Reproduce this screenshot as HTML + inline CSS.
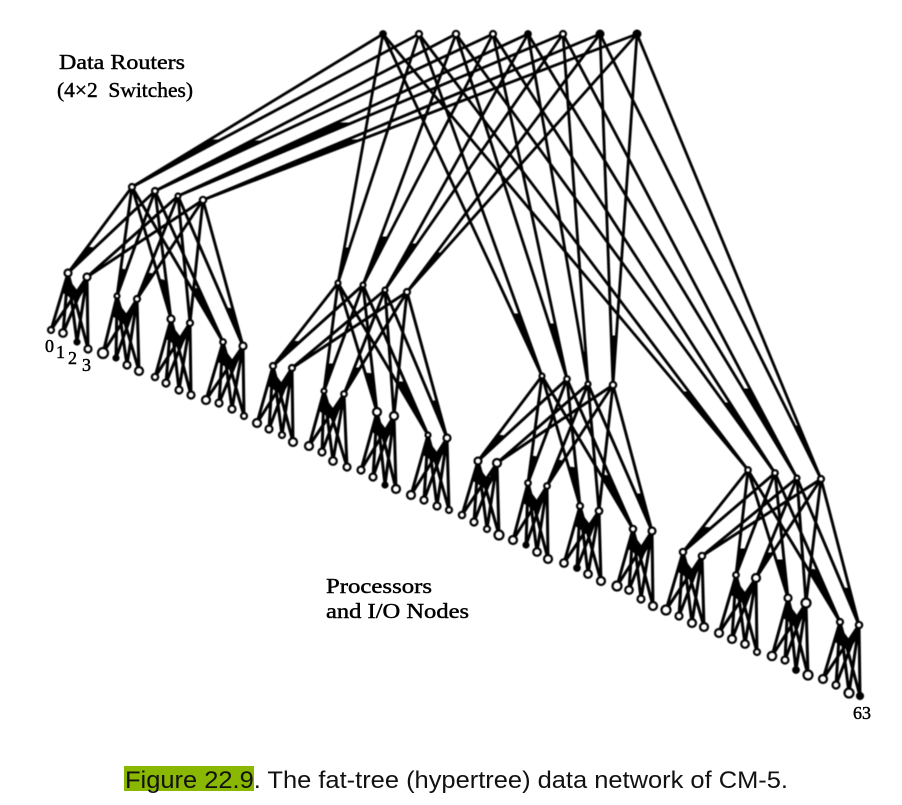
<!DOCTYPE html>
<html lang="en">
<head>
<meta charset="utf-8">
<title>Figure 22.9 Fat-tree data network of CM-5</title>
<style>
html,body{margin:0;padding:0;background:#fff;width:902px;height:805px;overflow:hidden}
svg{display:block}
.d{filter:blur(.45px)}
.l{fill:none;stroke:#000;stroke-linejoin:round;stroke-linecap:round}
.w{fill:#000;stroke:#000;stroke-width:1;stroke-linejoin:round}
.n circle{fill:#fff;stroke:#000;stroke-width:2.2}
.n circle.k{fill:#000}
text{fill:#000}
.s{font-family:"Liberation Serif",serif;font-size:21.5px;stroke:#000;stroke-width:.45px}
.c{font-family:"Liberation Sans",sans-serif;font-size:24px;fill:#111}
</style>
</head>
<body>
<svg width="902" height="805" viewBox="0 0 902 805" xmlns="http://www.w3.org/2000/svg">
<defs>
<polygon id="c" points="0,5 -5,20 9,29 19,13 9,17"/>
</defs>
<rect width="902" height="805" fill="#fff"/>
<g class="d">
<!-- top routers to third level -->
<path class="l" stroke-width="2.8" d="M383 34L132 187L419 34M456 34L155 191L493 34M528 34L178 196L563 34M600 34L203 200L637 34
M383 34L338 283L419 34M456 34L363 285L493 34M528 34L385 290L563 34M600 34L407 292L637 34
M383 34L542 376L419 34M456 34L567 379L493 34M528 34L588 384L563 34M600 34L613 385L637 34
M383 34L748 470L419 34M456 34L775 473L493 34M528 34L797 478L563 34M600 34L821 479L637 34"/>
<!-- merged bundles near third-level nodes -->
<path class="w" d="M132 187L210 140L221 140ZM155 191L251 141L263 141ZM178 196L335 123L351 123ZM203 200L346 140L359 140Z
M338 283L344 248L349 248ZM363 285L381 237L388 237ZM385 290L411 244L417 244ZM407 292L436 253L441 253Z
M542 376L513 314L520 314ZM567 379L549 324L555 324ZM588 384L583 352L586 352ZM613 385L611 336L616 336Z
M748 470L682 392L689 392ZM775 473L724 403L730 403ZM797 478L743 389L750 389ZM821 479L794 426L799 426Z"/>

<!-- third level to second level -->
<path class="l" stroke-width="2.9" d="M132 187L68 273L155 191M178 196L87 277L203 200M132 187L117 296L155 191M178 196L137 299L203 200M132 187L171 319L155 191M178 196L190 323L203 200M132 187L223 342L155 191M178 196L243 346L203 200
M338 283L273 366L363 285M385 290L292 368L407 292M338 283L324 391L363 285M385 290L344 394L407 292M338 283L377 412L363 285M385 290L394 416L407 292M338 283L428 435L363 285M385 290L447 438L407 292
M542 376L478 461L567 379M588 384L497 463L613 385M542 376L528 483L567 379M588 384L547 486L613 385M542 376L580 506L567 379M588 384L599 511L613 385M542 376L633 529L567 379M588 384L652 531L613 385
M748 470L683 552L775 473M797 478L702 556L821 479M748 470L736 575L775 473M797 478L756 578L821 479M748 470L788 598L775 473M797 478L806 603L821 479M748 470L840 622L775 473M797 478L859 625L821 479"/>
<!-- merged bundles near second-level nodes -->
<path class="w" d="M68 273L87 247L94 248ZM87 277L101 265L104 266ZM117 296L121 269L126 270ZM137 299L147 273L153.5 274ZM171 319L159 279L166 281ZM190 323L189 310L191 311ZM223 342L191 288L199 289ZM243 346L227 308L233 309Z
M273 366L292 341L300 342ZM292 368L306 356L309 357ZM324 391L327 364L334 364ZM344 394L354 368L360 368ZM377 412L365 373L373 374ZM394 416L393 403L395 404ZM428 435L397 382L405 382ZM447 438L431 401L437 401Z
M478 461L497 435L505 436ZM497 463L511 451L514 451ZM528 483L531 456L538 457ZM547 486L557 460L563 461ZM580 506L569 467L576 468ZM599 511L598 498L600 498ZM633 529L601 475L610 476ZM652 531L636 494L642 494Z
M683 552L702 527L711 528ZM702 556L716 544L720 544ZM736 575L739 549L746 549ZM756 578L766 553L772 553ZM788 598L776 560L784 560ZM806 603L805 590L807.5 591ZM840 622L808 569L817 570ZM859 625L843.5 588L849.5 588.5Z"/>

<!-- second level to leaves -->
<path class="l" stroke-width="3" d="M68 273L51 330L87 277M68 273L63 333L87 277M68 273L77 342L87 277M68 273L88 349L87 277
M117 296L103 353L137 299M117 296L116 358L137 299M117 296L127 365L137 299M117 296L139 371L137 299
M171 319L155 377L190 323M171 319L166 383L190 323M171 319L179 390L190 323M171 319L191 395L190 323
M223 342L206 400L243 346M223 342L219 403L243 346M223 342L232 409L243 346M223 342L244 416L243 346
M273 366L257 423L292 368M273 366L269 429L292 368M273 366L282 435L292 368M273 366L293 442L292 368
M324 391L309 446L344 394M324 391L322 452L344 394M324 391L333 461L344 394M324 391L347 467L344 394
M377 412L361 470L394 416M377 412L373 477L394 416M377 412L385 485L394 416M377 412L396 489L394 416
M428 435L411 495L447 438M428 435L424 500L447 438M428 435L437 506L447 438M428 435L449 510L447 438
M478 461L462 515L497 463M478 461L474 522L497 463M478 461L487 529L497 463M478 461L499 535L497 463
M528 483L513 540L547 486M528 483L526 545L547 486M528 483L537 552L547 486M528 483L548 559L547 486
M580 506L564 563L599 511M580 506L577 568L599 511M580 506L588 574L599 511M580 506L601 581L599 511
M633 529L617 586L652 531M633 529L629 590L652 531M633 529L641 599L652 531M633 529L653 606L652 531
M683 552L666 610L702 556M683 552L679 616L702 556M683 552L692 623L702 556M683 552L704 627L702 556
M736 575L719 633L756 578M736 575L732 639L756 578M736 575L745 644L756 578M736 575L757 652L756 578
M788 598L772 656L806 603M788 598L785 660L806 603M788 598L796 670L806 603M788 598L808 675L806 603
M840 622L823 679L859 625M840 622L836 685L859 625M840 622L849 693L859 625M840 622L860 696L859 625"/>
<!-- dark crossing cores below each switch pair -->
<use href="#c" x="68" y="273"/><use href="#c" x="117" y="296"/><use href="#c" x="171" y="319"/><use href="#c" x="223" y="342"/>
<use href="#c" x="273" y="366"/><use href="#c" x="324" y="391"/><use href="#c" x="377" y="412"/><use href="#c" x="428" y="435"/>
<use href="#c" x="478" y="461"/><use href="#c" x="528" y="483"/><use href="#c" x="580" y="506"/><use href="#c" x="633" y="529"/>
<use href="#c" x="683" y="552"/><use href="#c" x="736" y="575"/><use href="#c" x="788" y="598"/><use href="#c" x="840" y="622"/>

<g class="n">
<!-- top routers -->
<circle class="k" cx="383" cy="34" r="2.8"/><circle cx="419" cy="34" r="3"/><circle cx="456" cy="34" r="3.2"/><circle cx="493" cy="34" r="3"/><circle class="k" cx="528" cy="34" r="2.8"/><circle cx="563" cy="34" r="3"/><circle class="k" cx="600" cy="34" r="3.4"/><circle class="k" cx="637" cy="34" r="3.4"/>
<!-- third level -->
<circle cx="132" cy="187" r="3"/><circle cx="155" cy="191" r="3"/><circle cx="178" cy="196" r="2.5"/><circle cx="203" cy="200" r="3.2"/>
<circle cx="338" cy="283" r="2.5"/><circle cx="363" cy="285" r="2.5"/><circle cx="385" cy="290" r="2.5"/><circle cx="407" cy="292" r="3"/>
<circle cx="542" cy="376" r="2.5"/><circle cx="567" cy="379" r="2.8"/><circle cx="588" cy="384" r="2.5"/><circle cx="613" cy="385" r="3.2"/>
<circle cx="748" cy="470" r="2.8"/><circle cx="775" cy="473" r="2.8"/><circle cx="797" cy="478" r="2.5"/><circle cx="821" cy="479" r="3"/>
<!-- second level -->
<circle cx="68" cy="273" r="3.5"/><circle cx="87" cy="277" r="3.5"/><circle cx="117" cy="296" r="2.5"/><circle cx="137" cy="299" r="3"/><circle cx="171" cy="319" r="3.5"/><circle cx="190" cy="323" r="3"/><circle cx="223" cy="342" r="2.8"/><circle cx="243" cy="346" r="3.5"/>
<circle cx="273" cy="366" r="3"/><circle cx="292" cy="368" r="3"/><circle cx="324" cy="391" r="2.5"/><circle cx="344" cy="394" r="2.8"/><circle cx="377" cy="412" r="4"/><circle cx="394" cy="416" r="4"/><circle cx="428" cy="435" r="2.5"/><circle cx="447" cy="438" r="3.5"/>
<circle cx="478" cy="461" r="3.5"/><circle cx="497" cy="463" r="4"/><circle cx="528" cy="483" r="2.8"/><circle cx="547" cy="486" r="2.8"/><circle cx="580" cy="506" r="3"/><circle cx="599" cy="511" r="3.3"/><circle cx="633" cy="529" r="3.2"/><circle cx="652" cy="531" r="3.5"/>
<circle cx="683" cy="552" r="3.2"/><circle cx="702" cy="556" r="3.2"/><circle cx="736" cy="575" r="2.8"/><circle cx="756" cy="578" r="4"/><circle cx="788" cy="598" r="3.5"/><circle cx="806" cy="603" r="4.5"/><circle cx="840" cy="622" r="3"/><circle cx="859" cy="625" r="3.2"/>
<!-- leaves -->
<circle cx="51" cy="330" r="3"/><circle cx="63" cy="333" r="3.8"/><circle class="k" cx="77" cy="342" r="2.5"/><circle cx="88" cy="349" r="3.5"/>
<circle cx="103" cy="353" r="5"/><circle class="k" cx="116" cy="358" r="2.5"/><circle cx="127" cy="365" r="3.5"/><circle cx="139" cy="371" r="4"/>
<circle cx="155" cy="377" r="3.2"/><circle cx="166" cy="383" r="3.5"/><circle cx="179" cy="390" r="3.5"/><circle cx="191" cy="395" r="3.5"/>
<circle cx="206" cy="400" r="4"/><circle cx="219" cy="403" r="3.5"/><circle cx="232" cy="409" r="3.5"/><circle cx="244" cy="416" r="3"/>
<circle cx="257" cy="423" r="4"/><circle cx="269" cy="429" r="3.5"/><circle cx="282" cy="435" r="3"/><circle cx="293" cy="442" r="4"/>
<circle cx="309" cy="446" r="4"/><circle cx="322" cy="452" r="3.5"/><circle cx="333" cy="461" r="3.8"/><circle cx="347" cy="467" r="3.5"/>
<circle cx="361" cy="470" r="3.5"/><circle cx="373" cy="477" r="3.5"/><circle class="k" cx="385" cy="485" r="2.5"/><circle cx="396" cy="489" r="4"/>
<circle cx="411" cy="495" r="4"/><circle cx="424" cy="500" r="3.5"/><circle cx="437" cy="506" r="3.5"/><circle cx="449" cy="510" r="3"/>
<circle cx="462" cy="515" r="3.2"/><circle cx="474" cy="522" r="3.5"/><circle cx="487" cy="529" r="3"/><circle cx="499" cy="535" r="4.5"/>
<circle cx="513" cy="540" r="4"/><circle class="k" cx="526" cy="545" r="2.5"/><circle cx="537" cy="552" r="3.8"/><circle cx="548" cy="559" r="4"/>
<circle cx="564" cy="563" r="3.8"/><circle class="k" cx="577" cy="568" r="2.8"/><circle cx="588" cy="574" r="3.8"/><circle cx="601" cy="581" r="4"/>
<circle cx="617" cy="586" r="4.5"/><circle cx="629" cy="590" r="3.8"/><circle cx="641" cy="599" r="3.5"/><circle cx="653" cy="606" r="4"/>
<circle cx="666" cy="610" r="4.5"/><circle cx="679" cy="616" r="3.5"/><circle cx="692" cy="623" r="4"/><circle cx="704" cy="627" r="4"/>
<circle cx="719" cy="633" r="4"/><circle cx="732" cy="639" r="4"/><circle cx="745" cy="644" r="3.8"/><circle cx="757" cy="652" r="3"/>
<circle cx="772" cy="656" r="4.2"/><circle cx="785" cy="660" r="3.5"/><circle class="k" cx="796" cy="670" r="2.8"/><circle cx="808" cy="675" r="4.5"/>
<circle cx="823" cy="679" r="4"/><circle cx="836" cy="685" r="3.5"/><circle cx="849" cy="693" r="4.5"/><circle class="k" cx="860" cy="696" r="3"/>
</g>
</g>

<!-- labels -->
<text class="s" x="59" y="69" textLength="126" lengthAdjust="spacingAndGlyphs">Data Routers</text>
<text class="s" x="57" y="97" textLength="136" lengthAdjust="spacingAndGlyphs" xml:space="preserve">(4×2  Switches)</text>
<text class="s" x="326" y="593" textLength="106" lengthAdjust="spacingAndGlyphs">Processors</text>
<text class="s" x="326" y="618" textLength="143" lengthAdjust="spacingAndGlyphs">and I/O Nodes</text>
<text class="s" x="45" y="352" style="font-size:18px">0</text>
<text class="s" x="56" y="358" style="font-size:18px">1</text>
<text class="s" x="68" y="364" style="font-size:18px">2</text>
<text class="s" x="82" y="371" style="font-size:18px">3</text>
<text class="s" x="853" y="719" style="font-size:18px" textLength="18" lengthAdjust="spacingAndGlyphs">63</text>

<!-- caption -->
<rect x="124" y="766" width="130" height="25" fill="#8ab800"/>
<text class="c" x="125" y="788" textLength="663" lengthAdjust="spacingAndGlyphs">Figure 22.9. The fat-tree (hypertree) data network of CM-5.</text>
</svg>
</body>
</html>
